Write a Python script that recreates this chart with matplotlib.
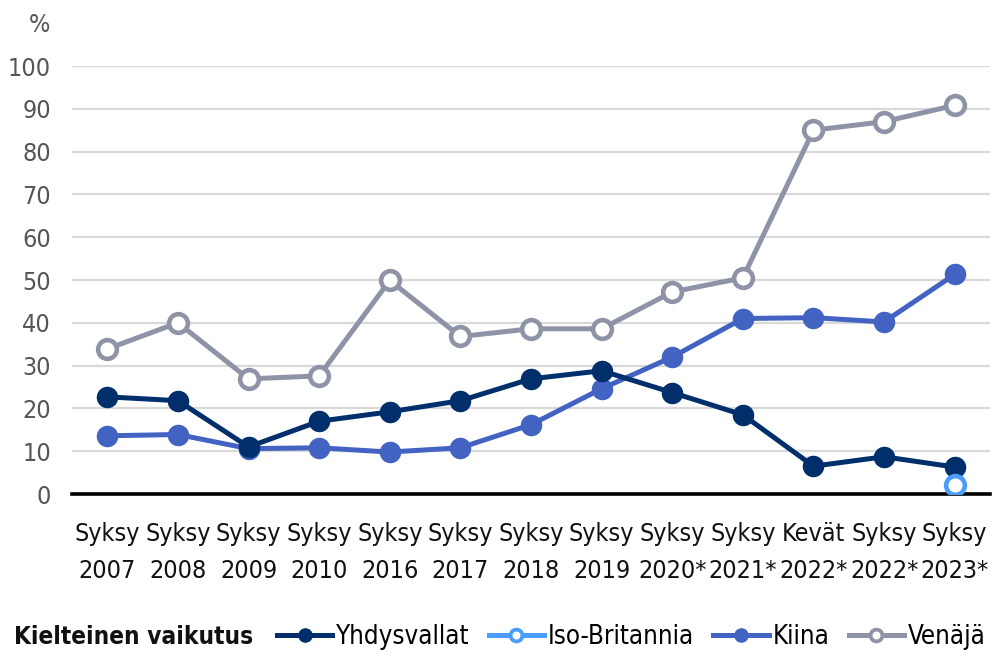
import matplotlib
matplotlib.use("Agg")
import matplotlib.pyplot as plt
from matplotlib.lines import Line2D

plt.rcParams['font.family'] = ['DejaVu Sans']
plt.rcParams['font.stretch'] = 'condensed'

categories = ["Syksy\n2007", "Syksy\n2008", "Syksy\n2009", "Syksy\n2010", "Syksy\n2016",
              "Syksy\n2017", "Syksy\n2018", "Syksy\n2019", "Syksy\n2020*", "Syksy\n2021*",
              "Kevät\n2022*", "Syksy\n2022*", "Syksy\n2023*"]
yhdysvallat = [22.7, 21.8, 11.0, 17.0, 19.2, 21.8, 26.9, 28.8, 23.7, 18.5, 6.5, 8.7, 6.3]
iso_britannia = [None] * 12 + [2.1]
kiina = [13.6, 13.9, 10.6, 10.8, 9.8, 10.8, 16.2, 24.6, 32.0, 41.0, 41.2, 40.2, 51.3]
venaja = [33.9, 40.0, 26.9, 27.6, 49.9, 36.8, 38.6, 38.6, 47.2, 50.5, 85.0, 87.0, 90.8]
yticks = [0, 10, 20, 30, 40, 50, 60, 70, 80, 90, 100]
legend_title = "Kielteinen vaikutus"

W, H = 994, 659
fig = plt.figure(figsize=(W / 100, H / 100), dpi=100)
ax = fig.add_axes([72 / W, (H - 494) / H, (990 - 72) / W, (494 - 66) / H])

x = list(range(len(categories)))
lw = 3.6
series = [
    ("Yhdysvallat", yhdysvallat, "#002f6c", True),
    ("Iso-Britannia", iso_britannia, "#4b9cff", False),
    ("Kiina", kiina, "#4263c2", True),
    ("Venäjä", venaja, "#8f93a8", False),
]
handles = []
for name, vals, col, filled in series:
    xs = [xi for xi, v in zip(x, vals) if v is not None]
    ys = [v for v in vals if v is not None]
    kw = dict(color=col, lw=lw, marker='o',
              markersize=15.5 if filled else 13.5,
              markerfacecolor=col if filled else 'white',
              markeredgecolor=col, markeredgewidth=0 if filled else 3.3,
              solid_capstyle='round', solid_joinstyle='round')
    order = {"Yhdysvallat": 4, "Iso-Britannia": 5, "Kiina": 3, "Venäjä": 2}[name]
    ax.plot(xs, ys, zorder=order, **kw)
    handles.append(Line2D([0], [0], color=col, lw=lw, marker='o',
                          markersize=10.5 if filled else 8.5,
                          markerfacecolor=col if filled else 'white',
                          markeredgecolor=col, markeredgewidth=0 if filled else 2.7,
                          label=name))

ax.set_xlim(-0.5, len(categories) - 0.5)
ax.set_ylim(0, 100)
ax.set_yticks(yticks)
ax.set_xticks(x)
ax.set_xticklabels(categories, linespacing=1.7)
ax.tick_params(axis='both', length=0, labelsize=18)
ax.tick_params(axis='y', pad=15, labelcolor='#555555')
ax.tick_params(axis='x', pad=20, labelcolor='#111111')
ax.grid(axis='y', color='#d9d9d9', lw=1.6, zorder=0)
ax.set_axisbelow(True)
for s in ax.spines.values():
    s.set_visible(False)
ax.axhline(0, color='black', lw=2.6, zorder=1.5, clip_on=False)

fig.text(39 / W, (H - 25) / H, "%", ha='center', va='center', fontsize=18, color='#555555')

fig.text(14 / W, (H - 637) / H, legend_title, ha='left', va='center',
         fontsize=17.5, fontweight='bold', color='#111111')
fig.legend(handles=handles, loc='center left', bbox_to_anchor=(277 / W, (H - 637) / H),
           ncol=4, frameon=False, fontsize=18.5, handlelength=2.15, handletextpad=0.15,
           columnspacing=0.75, borderpad=0, borderaxespad=0)

fig.savefig("out.png", dpi=100)
